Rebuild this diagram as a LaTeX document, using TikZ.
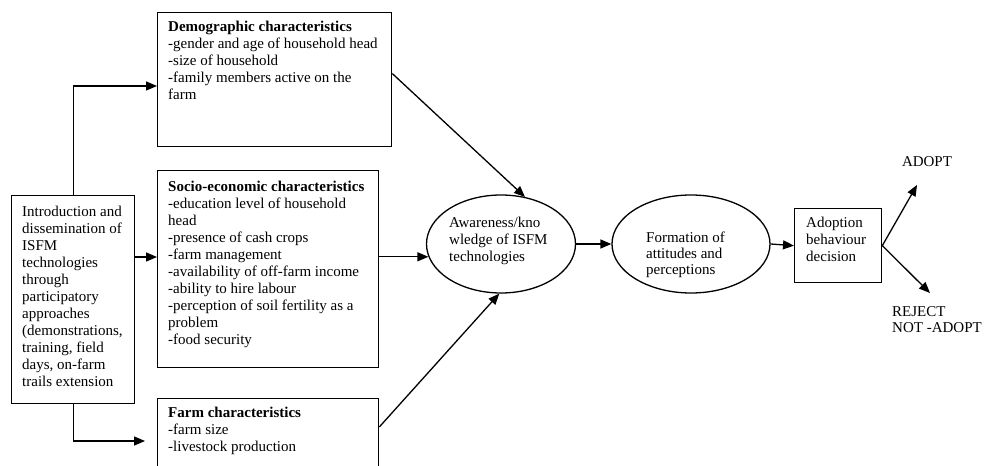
\documentclass[tikz,border=0pt]{standalone}
\usepackage{fontspec}
\setmainfont{Liberation Serif}
\usetikzlibrary{arrows.meta,shapes.geometric,calc}
\begin{document}
\begin{tikzpicture}[x=1bp,y=-1bp,
  box/.style={draw, line width=1.3bp, anchor=north west, inner sep=0pt},
  ell/.style={draw, ellipse, line width=1.3bp, inner sep=0pt},
  txt/.style={anchor=north west, inner sep=0pt, align=left, font=\fontsize{15bp}{17bp}\selectfont},
  arr/.style={line width=1.3bp, -{Triangle[length=11bp,width=9bp]}}]
\useasboundingbox (0,0) rectangle (988,466);
\clip (0,0) rectangle (988,466);
\fill[white] (0,0) rectangle (988,466);

% boxes
\node[box, minimum width=123bp, minimum height=208bp] (left) at (11,195) {};
\node[box, minimum width=234bp, minimum height=134bp] (demo) at (157,12) {};
\node[box, minimum width=221bp, minimum height=197bp] (socio) at (157,170) {};
\node[box, minimum width=221bp, minimum height=90bp] (farm) at (157,398) {};
\node[box, minimum width=87bp, minimum height=74bp] (dec) at (794,208) {};
\node[ell, minimum width=149bp, minimum height=98bp] (aw) at (501,244) {};
\node[ell, minimum width=158bp, minimum height=98bp] (fo) at (691,244) {};

% texts
\node[txt] (lefttxt) at (22,206) {Introduction and\\dissemination of\\ISFM\\technologies\\through\\participatory\\approaches\\(demonstrations,\\training, field\\days, on-farm\\trails extension};
\node[txt] (demotxt) at (168,21) {\textbf{Demographic characteristics}\\-gender and age of household head\\-size of household\\-family members active on the\\farm};
\node[txt] (sociotxt) at (168,181) {\textbf{Socio-economic characteristics}\\-education level of household\\head\\-presence of cash crops\\-farm management\\-availability of off-farm income\\-ability to hire labour\\-perception of soil fertility as a\\problem\\-food security};
\node[txt] (farmtxt) at (168,407) {\textbf{Farm characteristics}\\-farm size\\-livestock production};
\node[txt] (awtxt) at (449,217) {Awareness/kno\\wledge of ISFM\\technologies};
\node[txt, font=\fontsize{15bp}{16bp}\selectfont] (fotxt) at (646,232) {Formation of\\attitudes and\\perceptions};
\node[txt] (dectxt) at (806,217) {Adoption\\behaviour\\decision};
\node[txt, anchor=center] (adopt) at (927,162) {ADOPT};
\node[txt, font=\fontsize{15bp}{16bp}\selectfont] (reject) at (892,306) {REJECT\\NOT -ADOPT};

% connectors from the left box
\coordinate (dm) at ($(demo.north west)+(0,74)$);
\draw[arr] (left.north) |- (dm);
\coordinate (ls) at ($(left.north east)+(0,62)$);
\draw[arr] (ls) -- (ls -| socio.west);
\coordinate (ft) at ($(farm.north west)+(-12,43)$);
\draw[arr] (left.south) |- (ft);

% into awareness
\coordinate (ds) at ($(demo.north east)!0.455!(demo.south east)$);
\draw[arr] (ds) -- (aw.63);
\draw[arr] (socio.east |- aw.190) -- (aw.190);
\coordinate (fs) at ($(farm.north east)+(0,29)$);
\draw[arr] (fs) -- (aw.268);

% chain
\draw[arr] (aw.east) -- (fo.west);
\draw[arr] (fo.east) -- (dec.west);

% outcomes
\coordinate (adtip) at (917,185);
\coordinate (rjtip) at (930,293);
\draw[arr] (dec.east) -- (adtip);
\draw[arr] (dec.east) -- (rjtip);
\end{tikzpicture}
\end{document}
